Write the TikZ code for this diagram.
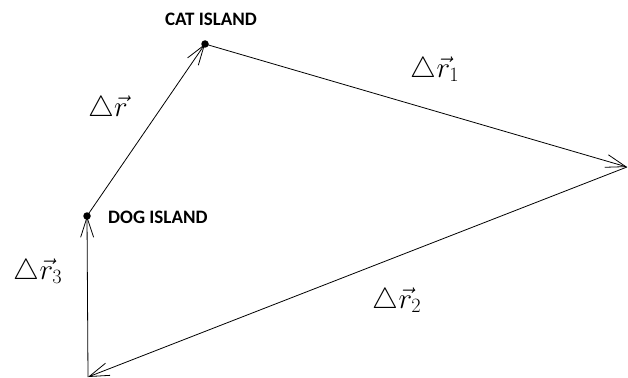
\RequirePackage{fix-cm}
\documentclass[tikz,border=0pt]{standalone}
\usepackage{amsmath}
\usepackage{amssymb}
\usepackage{fontspec}
\usepackage{tikz}
\usetikzlibrary{arrows.meta}
\newfontfamily\islandfont{Carlito}

\begin{document}
\begin{tikzpicture}[x=1pt,y=-1pt,>={Straight Barb[length=20pt,width=13pt]},
  island/.style={circle,fill=black,inner sep=0pt,minimum size=7.5pt},
  isletext/.style={font=\islandfont\bfseries\fontsize{19}{22}\selectfont,inner sep=0pt},
  dlabel/.style={font=\fontsize{29}{34}\selectfont,inner sep=0pt}]
  \useasboundingbox (0,0) rectangle (628,377);
  \coordinate (cat) at (205,44);
  \coordinate (dog) at (87,216);
  \coordinate (east) at (627,167);
  \coordinate (south) at (88,377);
  \node[island] (catdot) at (cat) {};
  \node[island] (dogdot) at (dog) {};
  \node[isletext] (catname) at (211,19) {CAT ISLAND};
  \node[isletext,anchor=west] (dogname) at (108,217) {DOG ISLAND};
  \draw[->, line width=0.8pt] (dog) -- (cat);
  \draw[->, line width=0.8pt] (cat) -- (east);
  \draw[->, line width=0.8pt] (east) -- (south);
  \draw[->, line width=0.8pt] (south) -- (dog);
  \node[dlabel] (dr) at (108,109) {$\triangle\vec{r}$};
  \node[dlabel] (dr1) at (435,70) {$\triangle\vec{r}_1$};
  \node[dlabel] (dr2) at (397,301) {$\triangle\vec{r}_2$};
  \node[dlabel] (dr3) at (38,272) {$\triangle\vec{r}_3$};
\end{tikzpicture}
\end{document}
